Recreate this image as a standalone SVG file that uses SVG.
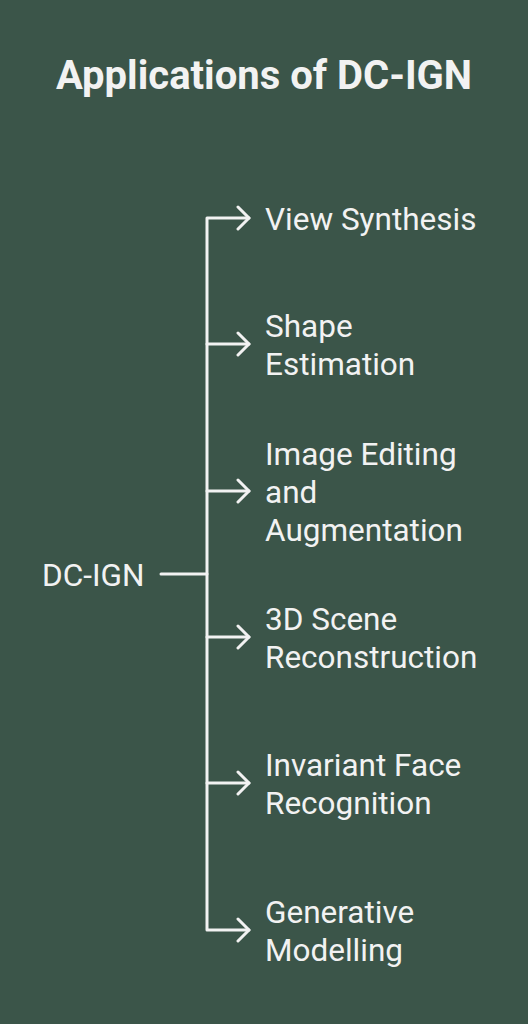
<svg xmlns="http://www.w3.org/2000/svg" width="528" height="1024" viewBox="0 0 528 1024">
<style>
.t{font-family:Roboto,"Liberation Sans",sans-serif;font-size:31.5px;fill:#f2f2f2}
.ttl{font-family:Roboto,"Liberation Sans",sans-serif;font-size:40px;font-weight:bold;fill:#f2f2f2}
.c{stroke:#f2f2f2;stroke-width:3;fill:none;stroke-linecap:round;stroke-linejoin:round}
</style>
<rect width="528" height="1024" fill="#3b5549"/>
<text class="ttl" x="264" y="89" text-anchor="middle">Applications of DC-IGN</text>
<g id="connectors" class="c">
<path d="M161 574H207"/>
<path d="M249 218H207V930H249"/>
<path d="M207 344H249M207 491H249M207 637H249M207 783H249"/>
<path d="M238 207L249 218L238 229M238 333L249 344L238 355M238 480L249 491L238 502M238 626L249 637L238 648M238 772L249 783L238 794M238 919L249 930L238 941"/>
</g>
<g id="root"><text class="t" x="42" y="586">DC-IGN</text></g>
<g id="n1"><text class="t" x="265" y="230">View Synthesis</text></g>
<g id="n2"><text class="t" x="265" y="337">Shape</text><text class="t" x="265" y="375">Estimation</text></g>
<g id="n3"><text class="t" x="265" y="465">Image Editing</text><text class="t" x="265" y="503">and</text><text class="t" x="265" y="541">Augmentation</text></g>
<g id="n4"><text class="t" x="265" y="630">3D Scene</text><text class="t" x="265" y="668">Reconstruction</text></g>
<g id="n5"><text class="t" x="265" y="776">Invariant Face</text><text class="t" x="265" y="814">Recognition</text></g>
<g id="n6"><text class="t" x="265" y="923">Generative</text><text class="t" x="265" y="961">Modelling</text></g>
</svg>
